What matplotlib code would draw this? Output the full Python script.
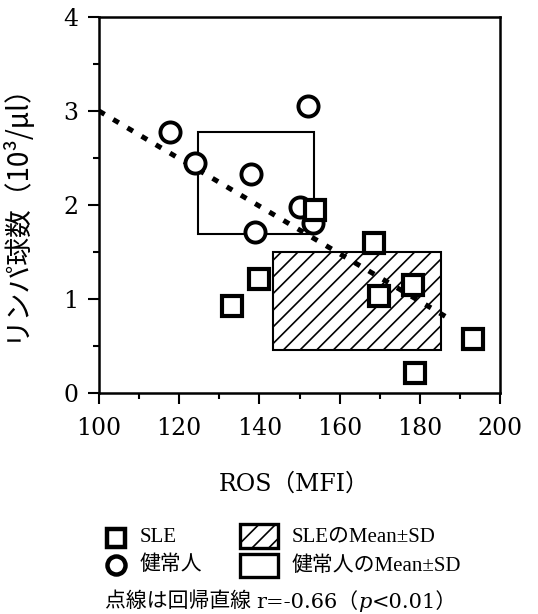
import matplotlib
matplotlib.use('Agg')
import matplotlib.pyplot as plt
from matplotlib.patches import Rectangle
from matplotlib.lines import Line2D
from matplotlib.ticker import MultipleLocator

plt.rcParams['font.family'] = ['Liberation Serif', 'Noto Sans CJK JP', 'DejaVu Sans']
plt.rcParams['hatch.linewidth'] = 1.2

# data
healthy_x = [117.7, 123.9, 137.8, 152.1, 150.0, 139.0, 153.3]
healthy_y = [2.78, 2.45, 2.33, 3.05, 1.98, 1.71, 1.81]
sle_x = [153.8, 168.5, 139.9, 133.2, 169.8, 178.2, 193.3, 178.8]
sle_y = [1.95, 1.60, 1.21, 0.93, 1.03, 1.15, 0.57, 0.21]

# mean +- SD boxes: (x_low, x_high, y_low, y_high)
healthy_box = (124.8, 153.6, 1.69, 2.78)
sle_box = (143.3, 185.2, 0.46, 1.50)

# regression line
reg_intercept = 3.0   # value at x = 100
reg_slope = -0.0253
reg_x = [100, 188.0]
reg_y = [reg_intercept + reg_slope * (x - 100) for x in reg_x]

W, H = 538, 614
fig = plt.figure(figsize=(W / 100, H / 100), dpi=100)
ax = fig.add_axes([99 / W, (H - 393) / H, 401 / W, 376 / H])

# boxes
x0, x1, y0, y1 = sle_box
ax.add_patch(Rectangle((x0, y0), x1 - x0, y1 - y0, facecolor='white',
                       edgecolor='black', hatch='//', lw=1.5, zorder=1))
x0, x1, y0, y1 = healthy_box
ax.add_patch(Rectangle((x0, y0), x1 - x0, y1 - y0, fill=False,
                       edgecolor='black', lw=1.5, zorder=1))

ax.plot(reg_x, reg_y, color='black', lw=3.6, linestyle=(0, (1.3, 2.0)), zorder=2)

ax.plot(healthy_x, healthy_y, 'o', ms=14.5, mfc='white', mec='black', mew=2.8,
        zorder=3, clip_on=False)
ax.plot(sle_x, sle_y, 's', ms=14.5, mfc='white', mec='black', mew=3.0,
        zorder=4, clip_on=False)

ax.set_xlim(100, 200)
ax.set_ylim(0, 4)
ax.xaxis.set_major_locator(MultipleLocator(20))
ax.xaxis.set_minor_locator(MultipleLocator(10))
ax.yaxis.set_major_locator(MultipleLocator(1))
ax.yaxis.set_minor_locator(MultipleLocator(0.5))
ax.tick_params(which='major', direction='out', length=8, width=1.5)
ax.tick_params(axis='x', pad=9)
ax.tick_params(axis='y', pad=7)
ax.tick_params(which='minor', direction='out', length=4, width=1.5)
ax.tick_params(top=False, right=False, which='both')
for lab in ax.get_xticklabels() + ax.get_yticklabels():
    lab.set_family('DejaVu Serif')
    lab.set_fontsize(17)
for s in ax.spines.values():
    s.set_linewidth(1.8)

ax.set_ylabel('リンパ球数（10³/μl）', family=['Noto Sans CJK JP', 'DejaVu Sans'],
              fontsize=20)
ax.yaxis.set_label_coords(-0.172, 0.5)
fig.text(294 / W, 1 - 484 / H, 'ROS（MFI）', ha='center', va='center', fontsize=17,
         family=['DejaVu Serif', 'Noto Sans CJK JP'])

# legend drawn by hand
fs = 15
fig.add_artist(Line2D([116 / W], [1 - 538 / H], marker='s', ms=13, mfc='white',
                      mec='black', mew=3.2, transform=fig.transFigure))
fig.add_artist(Line2D([116 / W], [1 - 565 / H], marker='o', ms=13, mfc='white',
                      mec='black', mew=3.2, transform=fig.transFigure))
fig.text(140 / W, 1 - 538 / H, 'SLE', va='center', fontsize=fs)
fig.text(140 / W, 1 - 565 / H, '健常人', va='center', fontsize=fs)
fig.add_artist(Rectangle((240 / W, 1 - 548 / H), 38 / W, 24 / H, facecolor='white',
                         edgecolor='black', hatch='//', lw=2.4,
                         transform=fig.transFigure))
fig.add_artist(Rectangle((240 / W, 1 - 577 / H), 38 / W, 23 / H, fill=False,
                         edgecolor='black', lw=2.4, transform=fig.transFigure))
fig.text(292 / W, 1 - 537 / H, 'SLEのMean±SD', va='center', fontsize=fs)
fig.text(292 / W, 1 - 566 / H, '健常人のMean±SD', va='center', fontsize=fs)

# bottom note, built from pieces so the p can be italic
renderer = fig.canvas.get_renderer()
serif = ['DejaVu Serif', 'Noto Sans CJK JP']
pieces = [('点線は回帰直線 ', 'normal'), ('r=-0.66（', 'normal'),
          ('p', 'italic'), ('<0.01）', 'normal')]
xpos = 105
for txt, style in pieces:
    t = fig.text(xpos / W, 1 - 602 / H, txt, va='center', fontsize=fs, style=style,
                 family=serif if txt[0] != '点' else None)
    xpos += t.get_window_extent(renderer).width

fig.savefig('out.png', dpi=100)
